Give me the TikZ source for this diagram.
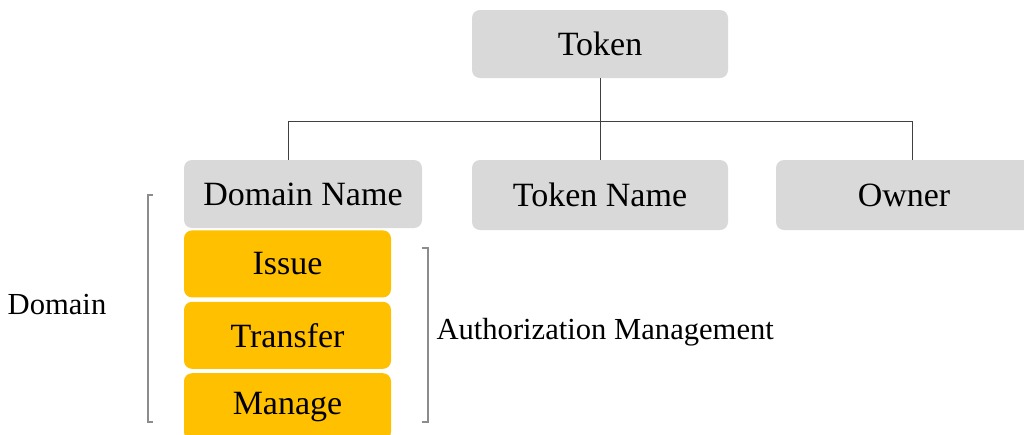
\documentclass[tikz,border=0pt]{standalone}
\usepackage{fontspec}
\setmainfont{Liberation Serif}
\usetikzlibrary{positioning}
\definecolor{boxgray}{HTML}{D9D9D9}
\definecolor{gold}{HTML}{FFC000}
\definecolor{linegray}{HTML}{404040}
\definecolor{bracketgray}{HTML}{8C8C8C}
\tikzset{
    field/.style={fill=boxgray, rounded corners=8pt, inner sep=0pt}, % Grey header boxes
    rightbox/.style={fill=gold, rounded corners=8pt, inner sep=0pt, minimum width=207pt, minimum height=67pt}, % Authorization boxes
}

\begin{document}
\begin{tikzpicture}[
    x=1pt, y=-1pt,
    node distance=4pt,
    every node/.style={font=\fontsize{34}{40}\selectfont},
    tree/.style={draw=linegray, line width=1pt},
    bracket/.style={draw=bracketgray, line width=1.2pt},
    label text/.style={font=\fontsize{30.6}{36}\selectfont}
]
    \useasboundingbox (0,0) rectangle (1024,434);

    % --- Fields ---
    \node[field, minimum width=256pt, minimum height=68pt] (token) at (600,44) {Token};
    \node[field, minimum width=238pt, minimum height=68pt] (domname) at (303,194) {Domain Name};
    \node[field, minimum width=256pt, minimum height=70pt] (tokname) at (600,195) {Token Name};
    \node[field, minimum width=256pt, minimum height=70pt] (owner) at (904,195) {Owner};

    % --- Rights ---
    \node[rightbox, anchor=north west] (issue) at ([yshift=-2pt]domname.south west) {Issue};
    \node[rightbox, below=of issue] (transfer) {Transfer};
    \node[rightbox, below=of transfer] (manage) {Manage};

    % --- Tree ---
    \draw[tree] (token.south) -- ++(0,43) coordinate (split);
    \draw[tree] ([xshift=-15pt]domname.north) |- (split) -| ([xshift=8pt]owner.north);
    \draw[tree] (split) -- (tokname.north);

    % --- Brackets ---
    \coordinate (domtop) at (148,195);
    \coordinate (authtop) at (428,248);
    \draw[bracket] ([xshift=5pt]domtop) -- (domtop) -- (148,422) -- ++(5,0);
    \draw[bracket] ([xshift=-6pt]authtop) -- (authtop) -- (428,422) -- ++(-6,0);

    % --- Labels ---
    \node[label text] (domain) at (57,305) {Domain};
    \node[label text, anchor=west] (auth) at (433,332) {Authorization Management};

\end{tikzpicture}
\end{document}
